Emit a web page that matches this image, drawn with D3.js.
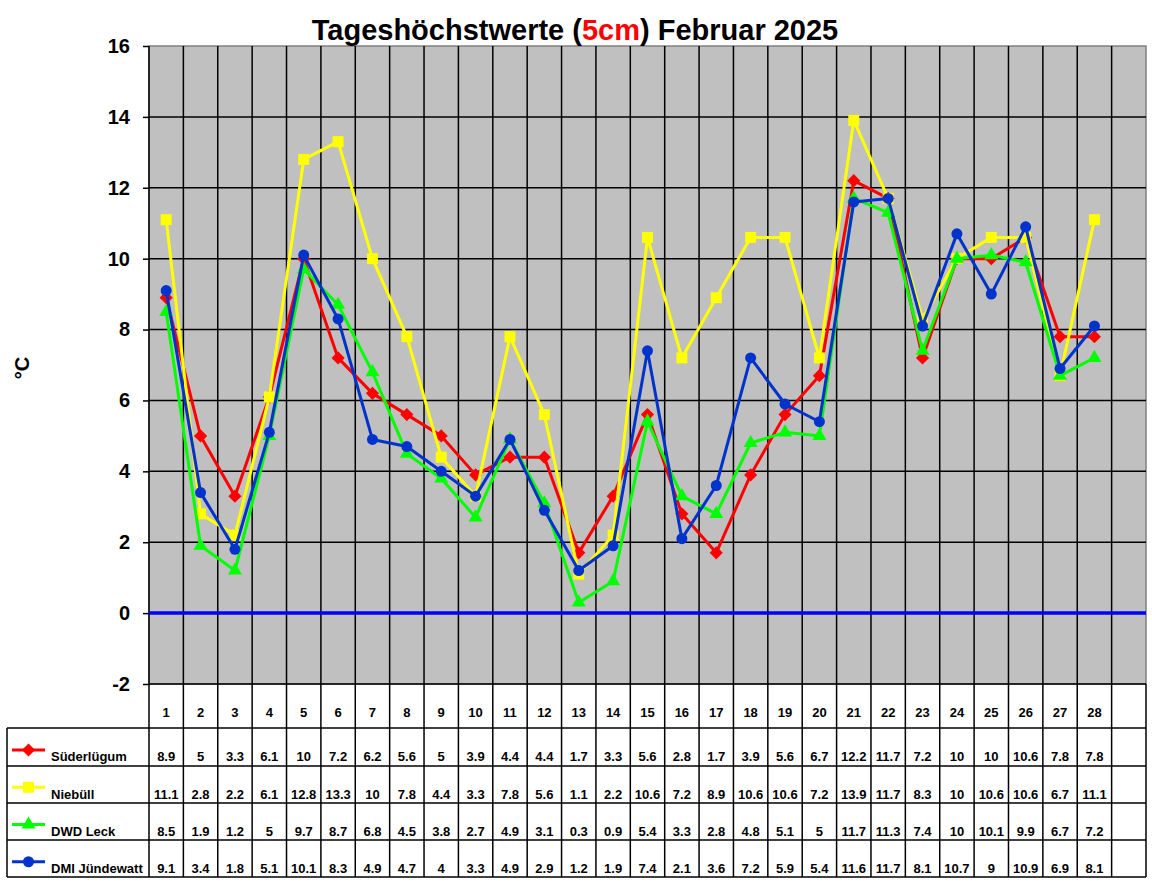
<!DOCTYPE html>
<html lang="de">
<head>
<meta charset="UTF-8">
<title>Tageshöchstwerte (5cm) Februar 2025</title>
<script src="https://cdn.jsdelivr.net/npm/d3@7"></script>
<style>
    body { margin: 0; background: #fff; }
    text { font-family: "Liberation Sans", Arial, sans-serif; font-weight: bold; }
</style>
</head>
<body>
<script>
// data
const days = d3.range(1, 29).map(String);
const cols = days.concat([""]);   // the chart has one empty column at the end
const seriesNames = ["Süderlügum", "Niebüll", "DWD Leck", "DMI Jündewatt"];
const suederluegum = [8.9, 5, 3.3, 6.1, 10, 7.2, 6.2, 5.6, 5, 3.9, 4.4, 4.4, 1.7, 3.3, 5.6, 2.8, 1.7, 3.9, 5.6, 6.7, 12.2, 11.7, 7.2, 10, 10, 10.6, 7.8, 7.8];
const niebuell = [11.1, 2.8, 2.2, 6.1, 12.8, 13.3, 10, 7.8, 4.4, 3.3, 7.8, 5.6, 1.1, 2.2, 10.6, 7.2, 8.9, 10.6, 10.6, 7.2, 13.9, 11.7, 8.3, 10, 10.6, 10.6, 6.7, 11.1];
const dwdLeck = [8.5, 1.9, 1.2, 5, 9.7, 8.7, 6.8, 4.5, 3.8, 2.7, 4.9, 3.1, 0.3, 0.9, 5.4, 3.3, 2.8, 4.8, 5.1, 5, 11.7, 11.3, 7.4, 10, 10.1, 9.9, 6.7, 7.2];
const dmi = [9.1, 3.4, 1.8, 5.1, 10.1, 8.3, 4.9, 4.7, 4, 3.3, 4.9, 2.9, 1.2, 1.9, 7.4, 2.1, 3.6, 7.2, 5.9, 5.4, 11.6, 11.7, 8.1, 10.7, 9, 10.9, 6.9, 8.1];
const yTicks = [-2, 0, 2, 4, 6, 8, 10, 12, 14, 16];

const series = [
    { name: seriesNames[0], values: suederluegum, color: "#ff0000", symbol: d3.symbolDiamond2, size: 110 },
    { name: seriesNames[1], values: niebuell, color: "#ffff00", symbol: d3.symbolSquare, size: 121 },
    { name: seriesNames[2], values: dwdLeck, color: "#00ff00", symbol: d3.symbolTriangle, size: 85 },
    { name: seriesNames[3], values: dmi, color: "#0033cc", symbol: d3.symbolCircle, size: 95 }
];

const width = 1152, height = 882;
const plot = { left: 149, right: 1146, top: 46, bottom: 684 };

const svg = d3.select("body").append("svg")
    .attr("width", width)
    .attr("height", height);

const x = d3.scaleBand().domain(cols).range([plot.left, plot.right]);
const y = d3.scaleLinear().domain([-2, 16]).range([plot.bottom, plot.top]);

// plot background
svg.append("rect")
    .attr("x", plot.left).attr("y", plot.top)
    .attr("width", plot.right - plot.left).attr("height", plot.bottom - plot.top)
    .attr("fill", "#c0c0c0")
    .attr("stroke", "#808080")
    .attr("stroke-width", 1.5);

// horizontal grid
svg.append("g").selectAll("line")
    .data(yTicks.filter(d => d > -2 && d < 16))
    .join("line")
    .attr("x1", plot.left).attr("x2", plot.right)
    .attr("y1", d => y(d)).attr("y2", d => y(d))
    .attr("stroke", "#000").attr("stroke-width", 1.5);

// vertical grid
const bounds = cols.map(c => x(c)).concat([plot.right]);
svg.append("g").selectAll("line")
    .data(bounds.slice(1, -1))
    .join("line")
    .attr("x1", d => d).attr("x2", d => d)
    .attr("y1", plot.top).attr("y2", plot.bottom)
    .attr("stroke", "#000").attr("stroke-width", 1.5);

svg.append("line")
    .attr("x1", plot.left).attr("x2", plot.left)
    .attr("y1", plot.top).attr("y2", plot.bottom)
    .attr("stroke", "#000").attr("stroke-width", 1.5);

// y axis
const yAxis = svg.append("g")
    .attr("transform", `translate(${plot.left},0)`)
    .call(d3.axisLeft(y).tickValues(yTicks).tickFormat(d => String(d)).tickSize(6).tickPadding(13));
yAxis.select(".domain").remove();
yAxis.selectAll(".tick line").attr("stroke", "#000").attr("stroke-width", 1.5);
yAxis.selectAll(".tick text")
    .style("font-family", "'Liberation Sans', Arial, sans-serif")
    .style("font-weight", "bold")
    .style("font-size", "20px")
    .attr("fill", "#000");

// zero line
svg.append("line")
    .attr("x1", plot.left).attr("x2", plot.right)
    .attr("y1", y(0)).attr("y2", y(0))
    .attr("stroke", "#0000ff").attr("stroke-width", 3.5);

// series
const line = d3.line()
    .x((d, i) => x(days[i]) + x.bandwidth() / 2)
    .y(d => y(d));

series.forEach(s => {
    const g = svg.append("g");
    g.append("path")
        .attr("d", line(s.values))
        .attr("fill", "none")
        .attr("stroke", s.color)
        .attr("stroke-width", 3)
        .attr("stroke-linejoin", "round");
    g.selectAll("path.m")
        .data(s.values)
        .join("path")
        .attr("class", "m")
        .attr("transform", (d, i) => `translate(${x(days[i]) + x.bandwidth() / 2},${y(d)})`)
        .attr("d", d3.symbol(s.symbol, s.size))
        .attr("fill", s.color);
});

// title
const title = svg.append("text")
    .attr("x", 575).attr("y", 40)
    .attr("text-anchor", "middle")
    .style("font-size", "29px");
title.append("tspan").text("Tageshöchstwerte (");
title.append("tspan").attr("fill", "#ff0000").text("5cm");
title.append("tspan").text(") Februar 2025");

// y label
svg.append("text")
    .attr("transform", "translate(29,368) rotate(-90)")
    .attr("text-anchor", "middle")
    .style("font-size", "20px")
    .text("°C");

// data table
const rowY = d3.scaleBand().domain(d3.range(4)).range([728, 877]);
const tableLeft = 7;
const tb = svg.append("g");

tb.selectAll("line.v")
    .data(bounds)
    .join("line")
    .attr("class", "v")
    .attr("x1", d => d).attr("x2", d => d)
    .attr("y1", plot.bottom).attr("y2", 877)
    .attr("stroke", "#000").attr("stroke-width", 1.5);
tb.append("line")
    .attr("x1", tableLeft).attr("x2", tableLeft)
    .attr("y1", 728).attr("y2", 877)
    .attr("stroke", "#000").attr("stroke-width", 1.5);
tb.selectAll("line.h")
    .data([728, 766, 803, 840, 877])
    .join("line")
    .attr("class", "h")
    .attr("x1", tableLeft).attr("x2", plot.right)
    .attr("y1", d => d).attr("y2", d => d)
    .attr("stroke", "#000").attr("stroke-width", 1.5);
tb.append("line")
    .attr("x1", plot.left).attr("x2", plot.right)
    .attr("y1", plot.bottom).attr("y2", plot.bottom)
    .attr("stroke", "#000").attr("stroke-width", 1.5);

// header numbers
tb.selectAll("text.day")
    .data(days)
    .join("text")
    .attr("class", "day")
    .attr("x", d => x(d) + x.bandwidth() / 2)
    .attr("y", 717)
    .attr("text-anchor", "middle")
    .style("font-size", "13px")
    .text(d => d);

series.forEach((s, r) => {
    const top = rowY(r);
    const bottom = top + rowY.bandwidth();
    // legend key
    tb.append("line")
        .attr("x1", 12).attr("x2", 45)
        .attr("y1", top + 22).attr("y2", top + 22)
        .attr("stroke", s.color).attr("stroke-width", 3);
    tb.append("path")
        .attr("transform", `translate(28.5,${top + 22})`)
        .attr("d", d3.symbol(s.symbol, s.size))
        .attr("fill", s.color);
    tb.append("text")
        .attr("x", 51).attr("y", bottom - 4)
        .style("font-size", "13px")
        .text(s.name);
    // values
    tb.selectAll(null)
        .data(s.values)
        .join("text")
        .attr("x", (d, i) => x(days[i]) + x.bandwidth() / 2)
        .attr("y", bottom - 4)
        .attr("text-anchor", "middle")
        .style("font-size", "13px")
        .text(d => d);
});
</script>
</body>
</html>
